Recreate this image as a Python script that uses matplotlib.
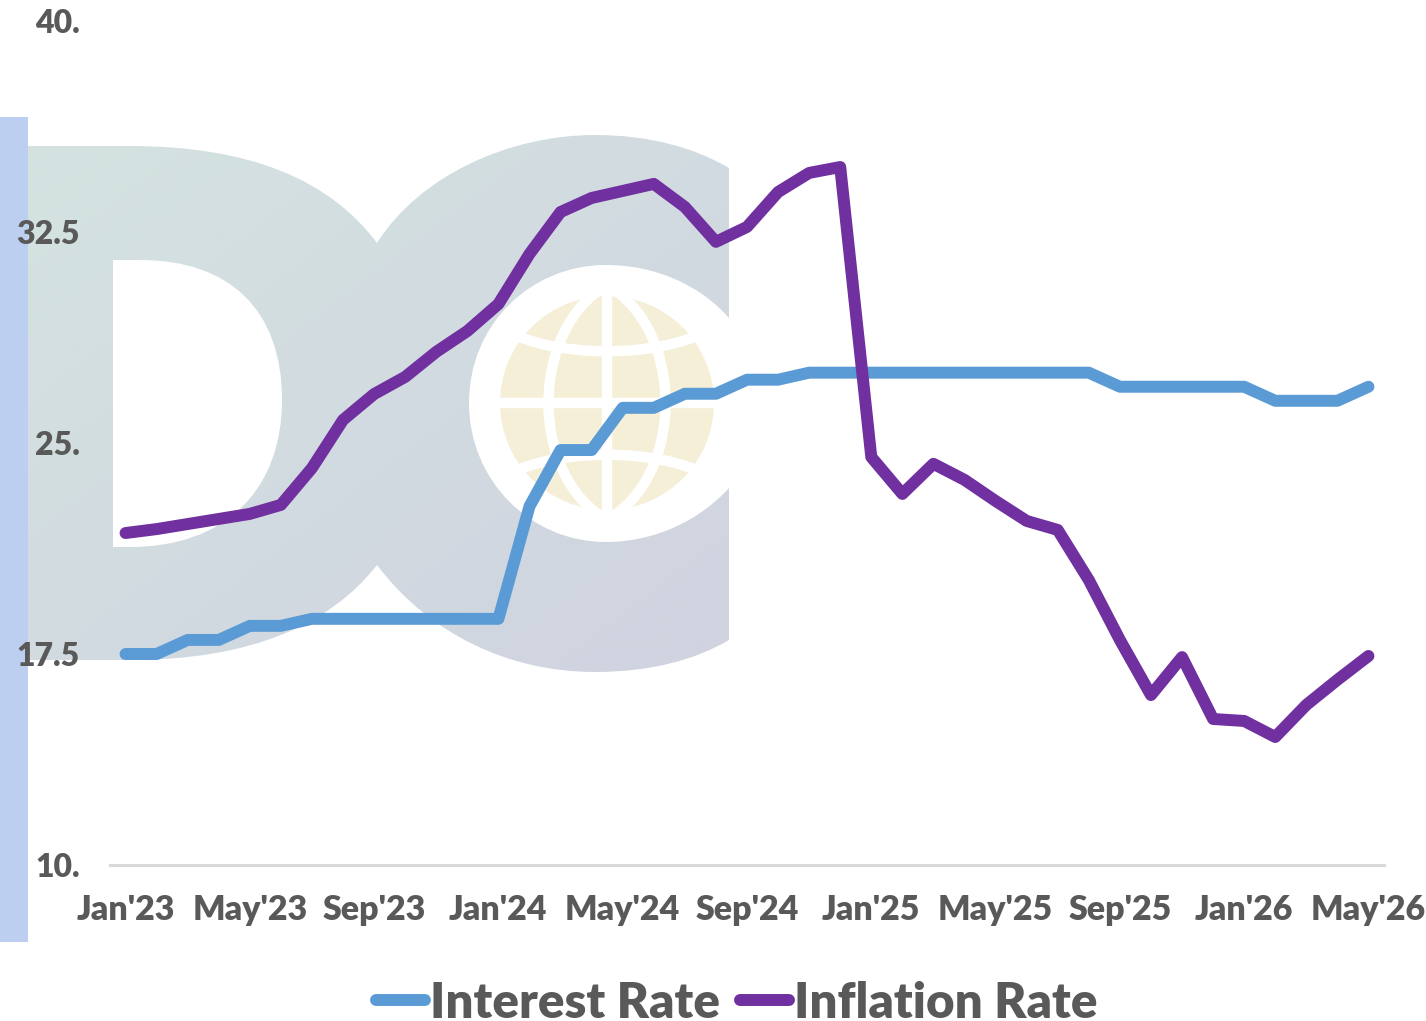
import numpy as np
import matplotlib
matplotlib.use("Agg")
import matplotlib.pyplot as plt
from matplotlib.path import Path
from matplotlib.patches import PathPatch, Rectangle, Ellipse

months = ["Jan'23", "Feb'23", "Mar'23", "Apr'23", "May'23", "Jun'23", "Jul'23", "Aug'23", "Sep'23", "Oct'23", "Nov'23", "Dec'23",
          "Jan'24", "Feb'24", "Mar'24", "Apr'24", "May'24", "Jun'24", "Jul'24", "Aug'24", "Sep'24", "Oct'24", "Nov'24", "Dec'24",
          "Jan'25", "Feb'25", "Mar'25", "Apr'25", "May'25", "Jun'25", "Jul'25", "Aug'25", "Sep'25", "Oct'25", "Nov'25", "Dec'25",
          "Jan'26", "Feb'26", "Mar'26", "Apr'26", "May'26"]
interest = [17.5, 17.5, 18, 18, 18.5, 18.5, 18.75, 18.75, 18.75, 18.75, 18.75, 18.75,
            18.75, 22.75, 24.75, 24.75, 26.25, 26.25, 26.75, 26.75, 27.25, 27.25, 27.5, 27.5,
            27.5, 27.5, 27.5, 27.5, 27.5, 27.5, 27.5, 27.5, 27, 27, 27, 27,
            27, 26.5, 26.5, 26.5, 27]
inflation = [21.80, 21.94, 22.12, 22.30, 22.48, 22.80, 24.11, 25.82, 26.74, 27.35, 28.24, 28.98,
             29.94, 31.72, 33.21, 33.71, 33.96, 34.21, 33.39, 32.15, 32.68, 33.92, 34.60, 34.81,
             24.50, 23.19, 24.26, 23.69, 22.94, 22.23, 21.91, 20.13, 18.00, 16.04, 17.39, 15.19,
             15.12, 14.55, 15.69, 16.58, 17.43]
y_ticks = [10, 17.5, 25, 32.5, 40]
y_labels = ["10.", "17.5", "25.", "32.5", "40."]

W, H = 1426, 1021
TEXT = "#595959"
plt.rcParams['font.family'] = ['Lato', 'DejaVu Sans']

fig = plt.figure(figsize=(W / 100, H / 100), dpi=100)

# background layer in pixel coords: side band + logo
bg = fig.add_axes([0, 0, 1, 1], zorder=0)
bg.set_xlim(0, W)
bg.set_ylim(H, 0)
bg.axis("off")

M, L, C = Path.MOVETO, Path.LINETO, Path.CURVE4
logo = [
    (M, (28, 146)), (L, (130, 146)),
    (C, (250, 146)), (C, (330, 180)), (C, (377, 243)),
    (C, (420, 175)), (C, (510, 135)), (C, (595, 135)),
    (C, (650, 135)), (C, (695, 148)), (C, (729, 168)),
    (L, (729, 318)),
    (C, (700, 285)), (C, (655, 265)), (C, (606, 265)),
    (C, (530, 265)), (C, (469, 325)), (C, (469, 403)),
    (C, (469, 480)), (C, (530, 542)), (C, (606, 542)),
    (C, (655, 542)), (C, (700, 520)), (C, (729, 488)),
    (L, (729, 640)),
    (C, (695, 660)), (C, (650, 672)), (C, (595, 672)),
    (C, (510, 672)), (C, (430, 635)), (C, (377, 565)),
    (C, (330, 625)), (C, (250, 660)), (C, (130, 660)),
    (L, (28, 660)), (L, (28, 146)),
    # hole of the D
    (M, (113, 260)), (L, (113, 547)), (L, (130, 547)),
    (C, (225, 547)), (C, (282, 490)), (C, (282, 400)),
    (C, (282, 310)), (C, (230, 260)), (C, (140, 260)),
    (L, (113, 260)),
]
codes = [c for c, p in logo]
verts = [p for c, p in logo]
clip = PathPatch(Path(verts, codes), transform=bg.transData, fc="none", ec="none")
bg.add_patch(clip)
c1 = np.array([0xd4, 0xe3, 0xe0]) / 255
c2 = np.array([0xd0, 0xd3, 0xe0]) / 255
xx, yy = np.meshgrid(np.linspace(0, 1, 200), np.linspace(0, 1, 200))
t = ((xx + yy) / 2)[..., None]
im = bg.imshow(c1 * (1 - t) + c2 * t, extent=(28, 729, 672, 135), aspect="auto", zorder=1)
im.set_clip_path(clip)
bg.set_xlim(0, W)
bg.set_ylim(H, 0)

# globe
bg.add_patch(Ellipse((607, 403), 214, 214, fc="#f5efd8", ec="none", zorder=2))
white = dict(fc="none", ec="white", lw=7.5, zorder=3)
bg.plot([490, 724], [403, 403], color="white", lw=7.5, zorder=3)
bg.plot([607, 607], [285, 520], color="white", lw=7.5, zorder=3)
for sign in (-1, 1):
    # meridians
    bg.add_patch(PathPatch(Path([(607, 285), (607 + sign * 78, 330), (607 + sign * 78, 476), (607, 520)],
                                [M, C, C, C]), **white))
for dy in (-1, 1):
    # parallels
    bg.add_patch(PathPatch(Path([(607 - 100, 403 + dy * 72), (607 - 50, 403 + dy * 45), (607 + 50, 403 + dy * 45),
                                 (607 + 100, 403 + dy * 72)], [M, C, C, C]), **white))

bg.add_patch(Rectangle((0, 117), 28, 825, fc="#bdcff0", ec="none", zorder=5))

# chart
ax = fig.add_axes([110 / W, 1 - 865 / H, 1274 / W, 844 / H], zorder=1)
ax.patch.set_alpha(0)
x = np.arange(len(months))
ax.plot(x, interest, color="#5b9bd5", lw=8.6, solid_capstyle="round", solid_joinstyle="round",
        label="Interest Rate", clip_on=False)
ax.plot(x, inflation, color="#7030a0", lw=8.6, solid_capstyle="round", solid_joinstyle="round",
        label="Inflation Rate", clip_on=False)
ax.set_xlim(-0.5, 40.5)
ax.set_ylim(10, 40)
for s in ("top", "right", "left"):
    ax.spines[s].set_visible(False)
ax.spines["bottom"].set_color("#d9d9d9")
ax.spines["bottom"].set_linewidth(2.2)
ax.set_xticks(x[::4])
ax.set_xticklabels(months[::4], fontsize=24.5, fontweight="heavy", color=TEXT)
ax.set_yticks(y_ticks)
ax.set_yticklabels(y_labels, fontsize=23, fontweight="heavy", color=TEXT)
ax.tick_params(axis="x", length=0, pad=21)
ax.tick_params(axis="y", length=0, pad=21.5)

leg = fig.legend(loc="center", bbox_to_anchor=(737 / W, 1 - 1003 / H), ncol=2, frameon=False,
                 prop=dict(size=35.5, weight="heavy"), labelcolor=TEXT, handlelength=1.0,
                 handletextpad=0.1, columnspacing=0.4, borderpad=0, borderaxespad=0)

fig.savefig("out.png", dpi=100)
